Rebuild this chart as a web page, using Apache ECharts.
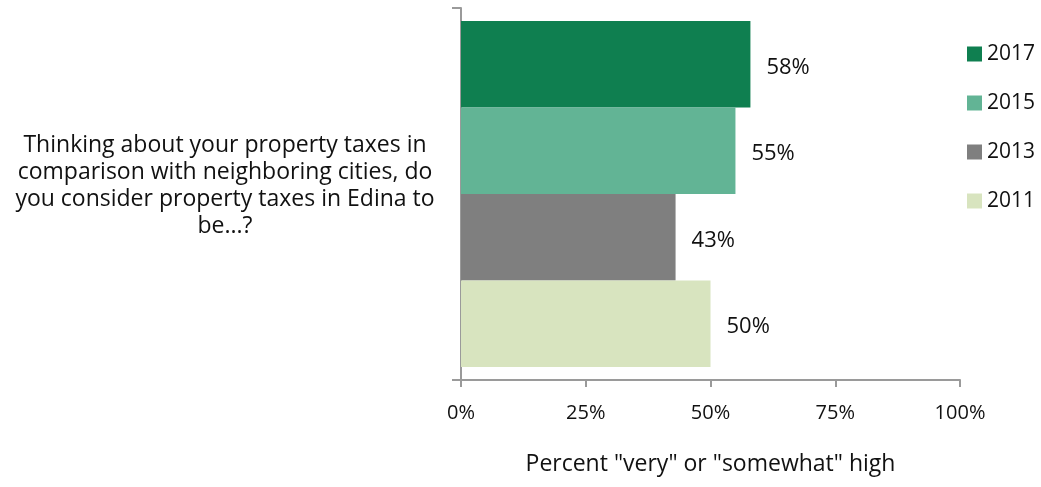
<!DOCTYPE html>
<html>
<head>
<meta charset="utf-8">
<script src="https://cdn.jsdelivr.net/npm/echarts@6/dist/echarts.min.js"></script>
<style>
  html, body { margin: 0; padding: 0; background: #fff; }
  #chart { width: 1041px; height: 487px; }
</style>
</head>
<body>
<div id="chart"></div>
<script>
// Survey question (single category)
const categories = ['Thinking about your property taxes in\ncomparison with neighboring cities, do\nyou consider property taxes in Edina to\nbe...?'];
// Survey years, top to bottom
const years = ['2017', '2015', '2013', '2011'];
// Percent "very" or "somewhat" high, per year
const values2017 = [58];
const values2015 = [55];
const values2013 = [43];
const values2011 = [50];
const xTicks = [0, 25, 50, 75, 100];

const colors = { '2017': '#0f7f50', '2015': '#62b495', '2013': '#7f7f7f', '2011': '#d8e4bf' };
const valuesByYear = { '2017': values2017, '2015': values2015, '2013': values2013, '2011': values2011 };
const FONT = '"Open Sans", Lato, sans-serif';

const chart = echarts.init(document.getElementById('chart'));
chart.setOption({
  animation: false,
  textStyle: { fontFamily: FONT },
  grid: { left: 461, right: 81, top: 8, bottom: 107, containLabel: false, outerBoundsMode: 'none' },
  legend: {
    data: years,
    orient: 'vertical',
    left: 962,
    top: 38,
    itemWidth: 15,
    itemHeight: 15,
    itemGap: 27,
    icon: 'rect',
    textStyle: { fontFamily: FONT, fontSize: 21, lineHeight: 22, color: '#111' }
  },
  xAxis: {
    type: 'value',
    min: xTicks[0],
    max: xTicks[xTicks.length - 1],
    interval: 25,
    name: 'Percent "very" or "somewhat" high',
    nameLocation: 'middle',
    nameGap: 73,
    nameTextStyle: { fontFamily: FONT, fontSize: 23, color: '#111' },
    axisLine: { show: true, lineStyle: { color: '#9a9a9a', width: 2 } },
    axisTick: { show: true, length: 7, lineStyle: { color: '#9a9a9a', width: 2 } },
    splitLine: { show: false },
    axisLabel: { formatter: '{value}%', margin: 23, fontSize: 20, color: '#111', fontFamily: FONT }
  },
  yAxis: {
    type: 'category',
    data: categories,
    inverse: true,
    axisLine: { show: true, lineStyle: { color: '#9a9a9a', width: 2 } },
    axisTick: { show: true, length: 9, lineStyle: { color: '#9a9a9a', width: 2 } },
    axisLabel: {
      align: 'center',
      margin: 236,
      fontSize: 23,
      lineHeight: 27,
      color: '#111',
      fontFamily: FONT,
      // a short empty line underneath lifts the centred block slightly
      formatter: v => v + '\n{gap|}',
      rich: { gap: { lineHeight: 16, fontSize: 10 } }
    }
  },
  series: years.map(y => ({
    name: y,
    type: 'bar',
    data: valuesByYear[y],
    barGap: '0%',
    barCategoryGap: '7%',
    itemStyle: { color: colors[y] },
    label: {
      show: true,
      position: 'right',
      distance: 16,
      offset: [0, 3],
      formatter: '{c}%',
      fontSize: 22,
      color: '#111',
      fontFamily: FONT
    }
  }))
});
</script>
</body>
</html>
